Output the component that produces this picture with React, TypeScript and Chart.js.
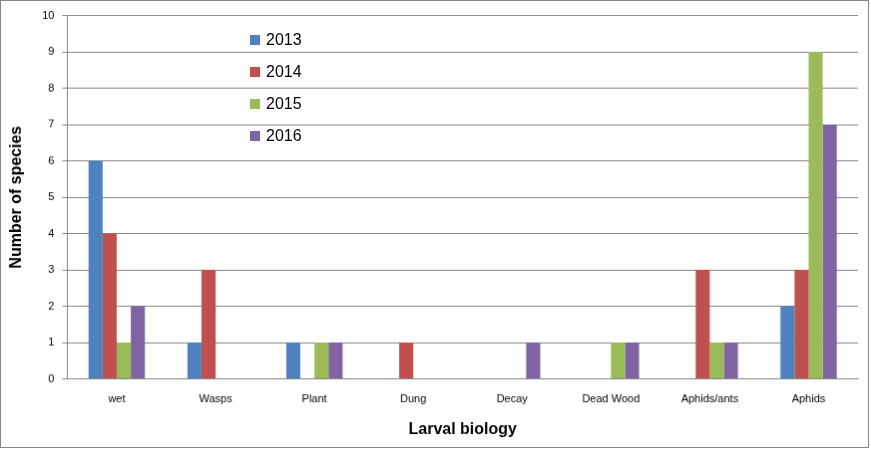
import React, { useEffect, useRef } from "react";
import { Chart, registerables } from "chart.js";
Chart.register(...registerables);

const categories = ["wet", "Wasps", "Plant", "Dung", "Decay", "Dead Wood", "Aphids/ants", "Aphids"];
const s2013 = [6, 1, 1, 0, 0, 0, 0, 2];
const s2014 = [4, 3, 0, 1, 0, 0, 3, 3];
const s2015 = [1, 0, 1, 0, 0, 1, 1, 9];
const s2016 = [2, 0, 1, 0, 1, 1, 1, 7];
const seriesNames = ["2013", "2014", "2015", "2016"];
const colors = ["#4F81BD", "#C0504D", "#9BBB59", "#8064A2"];

export default function App() {
  const ref = useRef<HTMLCanvasElement>(null);
  useEffect(() => {
    document.body.style.margin = "0";
    const data = [s2013, s2014, s2015, s2016];
    const chart = new Chart(ref.current!, {
      type: "bar",
      data: {
        labels: categories,
        datasets: data.map((d, i) => ({
          label: seriesNames[i],
          data: d,
          backgroundColor: colors[i],
          categoryPercentage: 0.57,
          barPercentage: 1,
        })),
      },
      options: {
        animation: false,
        responsive: false,
        layout: { padding: { top: 10, right: 10, left: 2, bottom: 4 } },
        plugins: { legend: { display: false }, tooltip: { enabled: false } },
        scales: {
          x: {
            grid: { display: false },
            border: { color: "#868686" },
            ticks: { color: "#000", font: { family: "Liberation Sans", size: 11 }, padding: 6 },
            title: { display: true, text: "Larval biology", color: "#000", font: { family: "Liberation Sans", size: 16, weight: "bold" }, padding: { top: 8 } },
          },
          y: {
            min: 0,
            max: 10,
            ticks: { stepSize: 1, color: "#000", font: { family: "Liberation Sans", size: 11 }, padding: 8 },
            grid: { color: "#868686", tickLength: 5 },
            border: { color: "#868686" },
            title: { display: true, text: "Number of species", color: "#000", font: { family: "Liberation Sans", size: 16, weight: "bold" }, padding: { bottom: 8 } },
          },
        },
      },
    });
    return () => chart.destroy();
  }, []);
  return (
    <div style={{ position: "relative", width: 871, height: 450 }}>
      <canvas ref={ref} width={869} height={448} style={{ border: "1px solid #868686", display: "block" }} />
      <div style={{ position: "absolute", left: 250, top: 24, fontFamily: "Liberation Sans", fontSize: 16 }}>
        {seriesNames.map((n, i) => (
          <div key={n} style={{ display: "flex", alignItems: "center", height: 32 }}>
            <span style={{ width: 10, height: 10, background: colors[i], display: "inline-block", marginRight: 6 }} />
            {n}
          </div>
        ))}
      </div>
    </div>
  );
}
